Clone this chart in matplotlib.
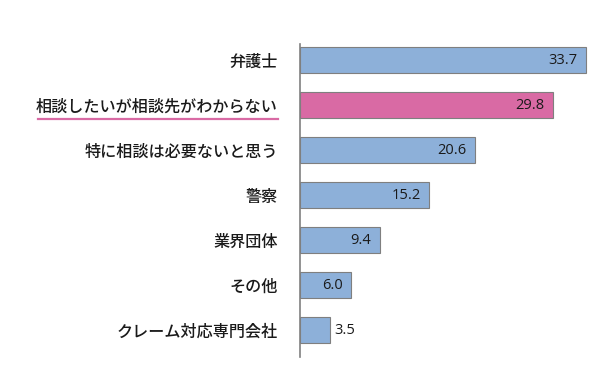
import matplotlib
matplotlib.use("Agg")
import matplotlib.pyplot as plt
from matplotlib.lines import Line2D

plt.rcParams['font.family'] = ['Noto Sans CJK JP', 'DejaVu Sans']

categories = ["弁護士", "相談したいが相談先がわからない", "特に相談は必要ないと思う",
              "警察", "業界団体", "その他", "クレーム対応専門会社"]
values = [33.7, 29.8, 20.6, 15.2, 9.4, 6.0, 3.5]
value_labels = ["33.7", "29.8", "20.6", "15.2", "9.4", "6.0", "3.5"]
highlight = 1

blue = "#8DB0D9"
pink = "#D96AA4"

W, H = 612, 384
fig = plt.figure(figsize=(W/100, H/100), dpi=100)
ax_left, ax_right = 300, 600
ax_top, ax_bot = 44, 357
ax = fig.add_axes([ax_left/W, 1-ax_bot/H, (ax_right-ax_left)/W, (ax_bot-ax_top)/H])

pxu = 8.48
ax.set_xlim(0, (ax_right-ax_left)/pxu)
ax.set_ylim(len(categories)-1+0.6, -0.356)

colors = [pink if i == highlight else blue for i in range(len(categories))]
ypos = list(range(len(categories)))
ax.barh(ypos, values, height=0.58, color=colors, edgecolor="#7f7f7f", linewidth=0.8, zorder=2)

for i, (v, lab) in enumerate(zip(values, value_labels)):
    if v > 5:
        ax.annotate(lab, (v, i), xytext=(-6, 0), textcoords="offset points",
                    ha="right", va="center", fontsize=10.5, color="#1a1a1a",
                    family=['Open Sans', 'DejaVu Sans'])
    else:
        ax.annotate(lab, (v, i), xytext=(3, 0), textcoords="offset points",
                    ha="left", va="center", fontsize=10.5, color="#1a1a1a",
                    family=['Open Sans', 'DejaVu Sans'])

ax.set_yticks(ypos)
ax.set_yticklabels(categories, fontsize=11.6, fontweight="medium", color="#1a1a1a")
ax.tick_params(axis="y", length=0, pad=16)
ax.set_xticks([])
for s in ["top", "right", "bottom"]:
    ax.spines[s].set_visible(False)
ax.spines["left"].set_color("#808080")
ax.spines["left"].set_linewidth(1.2)

# underline of highlighted label
fig.add_artist(Line2D([38/W, 278/W], [1-119/H, 1-119/H], color=pink, linewidth=1.6,
                      transform=fig.transFigure))

fig.savefig("out.png", dpi=100, facecolor="white")
